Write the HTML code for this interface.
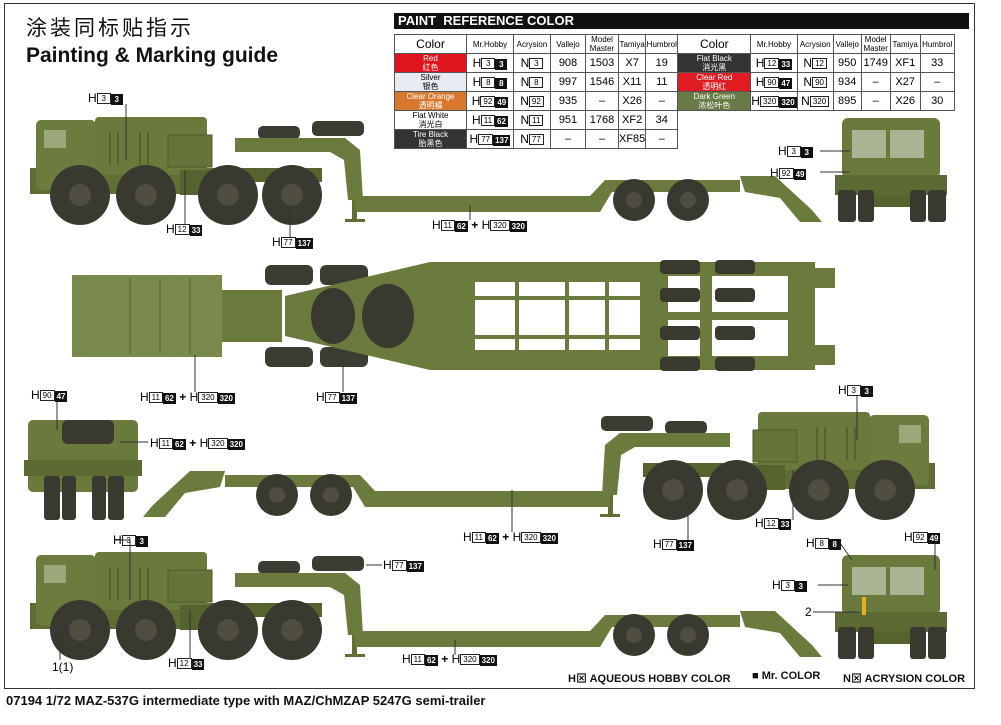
<!DOCTYPE html>
<html><head><meta charset="utf-8">
<style>
body{margin:0;width:1001px;height:725px;background:#fff;position:relative;overflow:hidden;font-family:"Liberation Sans","Noto Sans CJK SC",sans-serif;}
.t{position:absolute;white-space:nowrap;color:#111}
.lb{position:absolute;font-size:12px;white-space:nowrap;line-height:12px;font-family:"Liberation Sans",sans-serif;}
.lb b{display:inline-block;font-size:8px;font-weight:normal;border:1px solid #222;padding:0 2px;height:9px;line-height:9px;vertical-align:1px;min-width:8px;text-align:center}
.lb i{display:inline-block;font-style:normal;font-size:8px;font-weight:bold;background:#111;color:#fff;padding:0 2px;height:11px;line-height:11px;vertical-align:0px;min-width:8px;text-align:center}
table{position:absolute;left:394px;top:34px;border-collapse:collapse;font-size:11px;table-layout:fixed}
td{border:1px solid #555;height:16px;padding:0;text-align:center;line-height:9px;overflow:hidden;white-space:nowrap}
.sm{font-size:8px}
.c{font-size:8px;color:#fff}
</style></head><body>
<div style="position:absolute;left:4px;top:3px;width:969px;height:684px;border:1.5px solid #333"></div>
<div class="t" style="left:26px;top:12px;font-size:21px;letter-spacing:3px;font-family:'Noto Sans CJK SC',sans-serif">涂装同标贴指示</div>
<div class="t" style="left:26px;top:44px;font-size:21px;font-weight:bold">Painting &amp; Marking guide</div>
<div style="position:absolute;left:394px;top:13px;width:575px;height:16px;background:#111;color:#fff;font-weight:bold;font-size:13px;line-height:16px;padding-left:4px;box-sizing:border-box">PAINT&nbsp; REFERENCE COLOR</div>
<table>
<colgroup><col style="width:72px"><col style="width:47px"><col style="width:37px"><col style="width:35px"><col style="width:33px"><col style="width:27px"><col style="width:32px"><col style="width:73px"><col style="width:45px"><col style="width:36px"><col style="width:28px"><col style="width:29px"><col style="width:30px"><col style="width:34px"></colgroup>
<tr><td style="font-size:12px">Color</td><td class="sm">Mr.Hobby</td><td class="sm">Acrysion</td><td class="sm">Vallejo</td><td class="sm">Model<br>Master</td><td class="sm">Tamiya</td><td class="sm">Humbrol</td><td style="font-size:12px">Color</td><td class="sm">Mr.Hobby</td><td class="sm">Acrysion</td><td class="sm">Vallejo</td><td class="sm">Model<br>Master</td><td class="sm">Tamiya</td><td class="sm">Humbrol</td></tr>
<tr><td class="c" style="background:#e0141c">Red<br>红色</td><td><span class="lb" style="position:static">H<b>3</b><i>3</i></span></td><td><span class="lb" style="position:static">N<b>3</b></span></td><td>908</td><td>1503</td><td>X7</td><td>19</td><td class="c" style="background:#333">Flat Black<br>消光黑</td><td><span class="lb" style="position:static">H<b>12</b><i>33</i></span></td><td><span class="lb" style="position:static">N<b>12</b></span></td><td>950</td><td>1749</td><td>XF1</td><td>33</td></tr>
<tr><td class="sm" style="background:#e8ebf2">Silver<br>银色</td><td><span class="lb" style="position:static">H<b>8</b><i>8</i></span></td><td><span class="lb" style="position:static">N<b>8</b></span></td><td>997</td><td>1546</td><td>X11</td><td>11</td><td class="c" style="background:#e11b22">Clear Red<br>透明红</td><td><span class="lb" style="position:static">H<b>90</b><i>47</i></span></td><td><span class="lb" style="position:static">N<b>90</b></span></td><td>934</td><td>–</td><td>X27</td><td>–</td></tr>
<tr><td class="c" style="background:#d8772e">Clear Orange<br>透明橘</td><td><span class="lb" style="position:static">H<b>92</b><i>49</i></span></td><td><span class="lb" style="position:static">N<b>92</b></span></td><td>935</td><td>–</td><td>X26</td><td>–</td><td class="c" style="background:#687a45">Dark Green<br>浓松叶色</td><td><span class="lb" style="position:static">H<b>320</b><i>320</i></span></td><td><span class="lb" style="position:static">N<b>320</b></span></td><td>895</td><td>–</td><td>X26</td><td>30</td></tr>
<tr><td class="sm">Flat White<br>消光白</td><td><span class="lb" style="position:static">H<b>11</b><i>62</i></span></td><td><span class="lb" style="position:static">N<b>11</b></span></td><td>951</td><td>1768</td><td>XF2</td><td>34</td><td style="border:none"></td><td style="border:none"></td><td style="border:none"></td><td style="border:none"></td><td style="border:none"></td><td style="border:none"></td><td style="border:none"></td></tr>
<tr><td class="c" style="background:#333">Tire Black<br>胎黑色</td><td><span class="lb" style="position:static">H<b>77</b><i>137</i></span></td><td><span class="lb" style="position:static">N<b>77</b></span></td><td>–</td><td>–</td><td>XF85</td><td>–</td><td style="border:none"></td><td style="border:none"></td><td style="border:none"></td><td style="border:none"></td><td style="border:none"></td><td style="border:none"></td><td style="border:none"></td></tr>
</table>

<svg width="1001" height="725" style="position:absolute;left:0;top:0" xmlns="http://www.w3.org/2000/svg">
<defs>
<g id="truck">
 <rect x="30" y="168" width="205" height="26" fill="#5f6e35"/>
 <rect x="36" y="120" width="60" height="70" rx="5" fill="#6c7c3e"/>
 <rect x="44" y="130" width="22" height="18" fill="#9aa87a"/>
 <rect x="95" y="117" width="112" height="58" rx="4" fill="#6a7a3c"/>
 <g stroke="#55632e" stroke-width="2"><line x1="110" y1="132" x2="110" y2="165"/><line x1="118" y1="132" x2="118" y2="165"/><line x1="140" y1="132" x2="140" y2="165"/><line x1="148" y1="132" x2="148" y2="165"/></g>
 <rect x="168" y="135" width="44" height="32" fill="#65753a" stroke="#4d5a2a"/>
 <rect x="180" y="170" width="40" height="25" fill="#55632e"/>
 <rect x="232" y="168" width="90" height="14" fill="#55632e"/>
 <rect x="258" y="126" width="42" height="13" rx="5" fill="#3d3c33"/>
 <rect x="312" y="121" width="52" height="15" rx="5" fill="#3d3c33"/>
 <polygon points="235,138 345,138 360,150 363,200 348,200 344,160 330,152 235,152" fill="#6b7b3d"/>
 <rect x="352" y="200" width="5" height="22" fill="#5f6e35"/>
 <rect x="345" y="219" width="20" height="3" fill="#5f6e35"/>
 <polygon points="355,196 590,196 605,180 740,180 740,192 612,192 600,212 355,212" fill="#6b7b3d"/>
 <polygon points="740,176 775,176 812,210 822,222 800,222 780,198 745,192" fill="#6b7b3d"/>
 <g fill="#3a3930"><circle cx="80" cy="195" r="30"/><circle cx="146" cy="195" r="30"/><circle cx="228" cy="195" r="30"/><circle cx="292" cy="195" r="30"/><circle cx="634" cy="200" r="21"/><circle cx="688" cy="200" r="21"/></g>
 <g fill="#4f4d40"><circle cx="80" cy="195" r="11"/><circle cx="146" cy="195" r="11"/><circle cx="228" cy="195" r="11"/><circle cx="292" cy="195" r="11"/><circle cx="634" cy="200" r="8"/><circle cx="688" cy="200" r="8"/></g>
</g>
<g id="front">
 <rect x="842" y="118" width="98" height="60" rx="6" fill="#6a7a3c"/>
 <rect x="852" y="130" width="34" height="28" fill="#a9b493"/><rect x="890" y="130" width="34" height="28" fill="#a9b493"/>
 <rect x="835" y="175" width="112" height="20" fill="#5c6a33"/>
 <rect x="838" y="190" width="18" height="32" rx="3" fill="#3a3930"/><rect x="858" y="190" width="16" height="32" rx="3" fill="#3a3930"/>
 <rect x="910" y="190" width="16" height="32" rx="3" fill="#3a3930"/><rect x="928" y="190" width="18" height="32" rx="3" fill="#3a3930"/>
 <rect x="874" y="195" width="36" height="12" fill="#55632e"/>
</g>
</defs>
<use href="#truck"/>
<use href="#front"/>
<use href="#truck" transform="translate(0,435)"/>
<use href="#front" transform="translate(0,437)"/>
<use href="#truck" transform="translate(965,295) scale(-1,1)"/>
<!-- rear view -->
<rect x="28" y="420" width="110" height="72" rx="5" fill="#6a7a3c"/>
<rect x="62" y="420" width="52" height="24" rx="6" fill="#3a3930"/>
<rect x="24" y="460" width="118" height="16" fill="#5c6a33"/>
<rect x="44" y="476" width="16" height="44" rx="3" fill="#3a3930"/><rect x="62" y="476" width="14" height="44" rx="3" fill="#3a3930"/>
<rect x="92" y="476" width="14" height="44" rx="3" fill="#3a3930"/><rect x="108" y="476" width="16" height="44" rx="3" fill="#3a3930"/>
<!-- top view -->
<rect x="72" y="275" width="150" height="82" fill="#7a8a4c"/>
<g stroke="#5f6e35" stroke-width="1.5"><line x1="130" y1="278" x2="130" y2="354"/><line x1="160" y1="278" x2="160" y2="354"/><line x1="190" y1="278" x2="190" y2="354"/></g>
<rect x="222" y="290" width="60" height="52" fill="#6b7b3d"/>
<rect x="265" y="265" width="48" height="20" rx="6" fill="#3d3c33"/><rect x="320" y="265" width="48" height="20" rx="6" fill="#3d3c33"/>
<rect x="265" y="347" width="48" height="20" rx="6" fill="#3d3c33"/><rect x="320" y="347" width="48" height="20" rx="6" fill="#3d3c33"/>
<polygon points="285,296 430,262 650,262 650,370 430,370 285,336" fill="#6b7b3d"/>
<ellipse cx="333" cy="316" rx="22" ry="28" fill="#3a3930"/><ellipse cx="388" cy="316" rx="26" ry="32" fill="#3a3930"/>
<rect x="475" y="282" width="165" height="68" fill="#fff"/>
<g fill="#6b7b3d"><rect x="475" y="296" width="165" height="4"/><rect x="475" y="335" width="165" height="4"/><rect x="515" y="282" width="4" height="68"/><rect x="565" y="282" width="4" height="68"/><rect x="605" y="282" width="4" height="68"/></g>
<rect x="650" y="262" width="165" height="108" fill="#6b7b3d"/>
<rect x="668" y="276" width="120" height="80" fill="#fff"/>
<rect x="700" y="262" width="12" height="108" fill="#6b7b3d"/><rect x="668" y="312" width="120" height="8" fill="#6b7b3d"/>
<g fill="#3a3930"><rect x="660" y="260" width="40" height="14" rx="4"/><rect x="715" y="260" width="40" height="14" rx="4"/><rect x="660" y="288" width="40" height="14" rx="4"/><rect x="715" y="288" width="40" height="14" rx="4"/><rect x="660" y="326" width="40" height="14" rx="4"/><rect x="715" y="326" width="40" height="14" rx="4"/><rect x="660" y="357" width="40" height="14" rx="4"/><rect x="715" y="357" width="40" height="14" rx="4"/></g>
<rect x="810" y="268" width="25" height="20" fill="#6b7b3d"/><rect x="810" y="345" width="25" height="20" fill="#6b7b3d"/>
<g stroke="#333" stroke-width="1">
<line x1="126" y1="104" x2="126" y2="160"/><line x1="185" y1="170" x2="185" y2="225"/><line x1="290" y1="210" x2="290" y2="238"/><line x1="470" y1="205" x2="470" y2="220"/>
<line x1="820" y1="151" x2="850" y2="151"/><line x1="820" y1="172" x2="850" y2="172"/>
<line x1="195" y1="355" x2="195" y2="392"/><line x1="343" y1="360" x2="343" y2="392"/>
<line x1="57" y1="400" x2="57" y2="430"/><line x1="120" y1="442" x2="148" y2="442"/>
<line x1="857" y1="396" x2="857" y2="440"/><line x1="793" y1="470" x2="793" y2="520"/><line x1="512" y1="490" x2="512" y2="532"/><line x1="688" y1="500" x2="688" y2="540"/>
<line x1="840" y1="543" x2="852" y2="560"/><line x1="935" y1="543" x2="935" y2="570"/><line x1="818" y1="585" x2="848" y2="585"/><line x1="813" y1="612" x2="860" y2="612"/>
<line x1="115" y1="540" x2="130" y2="540"/><line x1="130" y1="540" x2="130" y2="600"/><line x1="190" y1="610" x2="190" y2="658"/><line x1="455" y1="640" x2="455" y2="655"/><line x1="366" y1="565" x2="382" y2="565"/><line x1="60" y1="630" x2="60" y2="660"/>
</g>
<rect x="862" y="597" width="4" height="18" fill="#e4b020"/>
</svg>

<div class="lb" style="left:88px;top:92px">H<b>3</b><i>3</i></div>
<div class="lb" style="left:166px;top:223px">H<b>12</b><i>33</i></div>
<div class="lb" style="left:272px;top:236px">H<b>77</b><i>137</i></div>
<div class="lb" style="left:432px;top:219px">H<b>11</b><i>62</i> <span style="font-weight:bold">+</span> H<b>320</b><i>320</i></div>
<div class="lb" style="left:778px;top:145px">H<b>3</b><i>3</i></div>
<div class="lb" style="left:770px;top:167px">H<b>92</b><i>49</i></div>
<div class="lb" style="left:140px;top:391px">H<b>11</b><i>62</i> <span style="font-weight:bold">+</span> H<b>320</b><i>320</i></div>
<div class="lb" style="left:316px;top:391px">H<b>77</b><i>137</i></div>
<div class="lb" style="left:31px;top:389px">H<b>90</b><i>47</i></div>
<div class="lb" style="left:150px;top:437px">H<b>11</b><i>62</i> <span style="font-weight:bold">+</span> H<b>320</b><i>320</i></div>
<div class="lb" style="left:838px;top:384px">H<b>3</b><i>3</i></div>
<div class="lb" style="left:755px;top:517px">H<b>12</b><i>33</i></div>
<div class="lb" style="left:463px;top:531px">H<b>11</b><i>62</i> <span style="font-weight:bold">+</span> H<b>320</b><i>320</i></div>
<div class="lb" style="left:653px;top:538px">H<b>77</b><i>137</i></div>
<div class="lb" style="left:806px;top:537px">H<b>8</b><i>8</i></div>
<div class="lb" style="left:904px;top:531px">H<b>92</b><i>49</i></div>
<div class="lb" style="left:113px;top:534px">H<b>3</b><i>3</i></div>
<div class="lb" style="left:383px;top:559px">H<b>77</b><i>137</i></div>
<div class="lb" style="left:772px;top:579px">H<b>3</b><i>3</i></div>
<div class="lb" style="left:805px;top:606px">2</div>
<div class="lb" style="left:52px;top:661px">1(1)</div>
<div class="lb" style="left:168px;top:657px">H<b>12</b><i>33</i></div>
<div class="lb" style="left:402px;top:653px">H<b>11</b><i>62</i> <span style="font-weight:bold">+</span> H<b>320</b><i>320</i></div>
<div class="t" style="left:568px;top:670px;font-size:11px;font-weight:bold">H⊠ AQUEOUS HOBBY COLOR</div>
<div class="t" style="left:752px;top:670px;font-size:11px;font-weight:bold">■ Mr. COLOR</div>
<div class="t" style="left:843px;top:670px;font-size:11px;font-weight:bold">N⊠ ACRYSION COLOR</div>
<div class="t" style="left:6px;top:693px;font-size:13px;font-weight:bold">07194 1/72 MAZ-537G intermediate type with MAZ/ChMZAP 5247G semi-trailer</div>
</body></html>
